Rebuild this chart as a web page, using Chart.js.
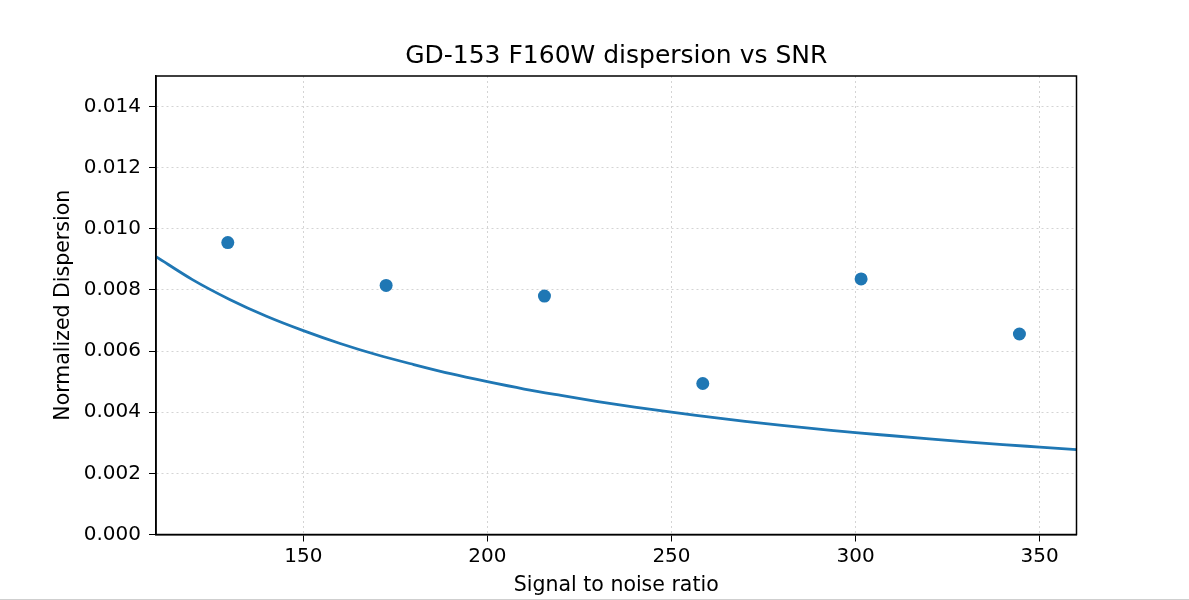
<!DOCTYPE html>
<html>
<head>
<meta charset="utf-8">
<script src="https://cdn.jsdelivr.net/npm/chart.js@4"></script>
<style>
  body { margin: 0; background: #fff; }
  #wrap { width: 1189px; height: 599px; border-bottom: 1px solid #cfcfcf; }
</style>
</head>
<body>
<div id="wrap"><canvas id="myChart" width="1189" height="599"></canvas></div>
<script>
// measured points (SNR, dispersion)
let snr = [129.5, 172.5, 215.5, 258.5, 301.5, 344.5]
let dispersion = [0.00955, 0.00815, 0.0078, 0.00494, 0.00836, 0.00656]

// expected curve
let curveX = [110, 120, 130, 140, 150, 160, 170, 180, 190, 200, 210, 220, 230, 240, 250, 260, 270, 280, 290, 300, 310, 320, 330, 340, 350, 360]
let curveY = [0.00909, 0.00833, 0.00769, 0.00714, 0.00667, 0.00625, 0.00588, 0.00556, 0.00526, 0.005, 0.00476, 0.00455, 0.00435, 0.00417, 0.004, 0.00385, 0.0037, 0.00357, 0.00345, 0.00333, 0.00323, 0.00313, 0.00303, 0.00294, 0.00286, 0.00278]

let xTicks = [150, 200, 250, 300, 350]
let yTicks = [0, 0.002, 0.004, 0.006, 0.008, 0.010, 0.012, 0.014]

const blue = '#1f77b4'
const font = { family: 'DejaVu Sans', size: 20 }
const labelFont = { family: 'DejaVu Sans', size: 20.5 }

// box around plot area like matplotlib
const frame = {
  id: 'frame',
  afterDraw(chart) {
    const a = chart.chartArea
    const c = chart.ctx
    c.save()
    c.strokeStyle = '#000'
    c.lineWidth = 1.5
    c.setLineDash([])
    c.strokeRect(a.left, a.top, a.right - a.left, a.bottom - a.top)
    c.restore()
  }
}

function chart() {
  const ctx = document.getElementById('myChart')
  new Chart(ctx, {
    type: 'scatter',
    data: {
      datasets: [
        {
          data: snr.map((x, i) => ({ x: x, y: dispersion[i] })),
          backgroundColor: blue,
          borderColor: blue,
          pointRadius: 6.5,
          pointHoverRadius: 6.5,
          borderWidth: 0
        },
        {
          data: curveX.map((x, i) => ({ x: x, y: curveY[i] })),
          showLine: true,
          borderColor: blue,
          borderWidth: 2.8,
          pointRadius: 0,
          cubicInterpolationMode: 'monotone'
        }
      ]
    },
    options: {
      responsive: false,
      animation: false,
      layout: { padding: { left: 0, right: 112.5, top: 0, bottom: 0 } },
      plugins: {
        legend: { display: false },
        tooltip: { enabled: false },
        title: {
          display: true,
          fullSize: false,
          text: 'GD-153 F160W dispersion vs SNR',
          color: '#000',
          font: { family: 'DejaVu Sans', size: 25, weight: 'normal' },
          padding: { top: 41, bottom: 5 }
        }
      },
      scales: {
        x: {
          type: 'linear',
          min: 110,
          max: 360,
          afterBuildTicks: (s) => { s.ticks = xTicks.map(v => ({ value: v })) },
          afterFit: (s) => { s.height = 64.5 },
          grid: { color: '#d4d4d4', tickColor: '#000', tickBorderDash: [], tickLength: 7 },
          border: { color: '#000', width: 1.5, dash: [2, 3] },
          ticks: { color: '#000', font: font, padding: 3, maxRotation: 0, callback: (v) => v },
          title: { display: true, text: 'Signal to noise ratio', color: '#000', font: labelFont, padding: { top: 0, bottom: 1 } }
        },
        y: {
          type: 'linear',
          min: 0,
          max: 0.015,
          afterBuildTicks: (s) => { s.ticks = yTicks.map(v => ({ value: v })) },
          afterFit: (s) => { s.width = 156 },
          grid: { color: '#d4d4d4', tickColor: '#000', tickBorderDash: [], tickLength: 7 },
          border: { color: '#000', width: 1.5, dash: [2, 3] },
          ticks: { color: '#000', font: font, padding: 8, callback: (v) => v.toFixed(3) },
          title: { display: true, text: 'Normalized Dispersion', color: '#000', font: labelFont, padding: { top: 51, bottom: 0 } }
        }
      }
    },
    plugins: [frame]
  })
}
chart()
</script>
</body>
</html>
